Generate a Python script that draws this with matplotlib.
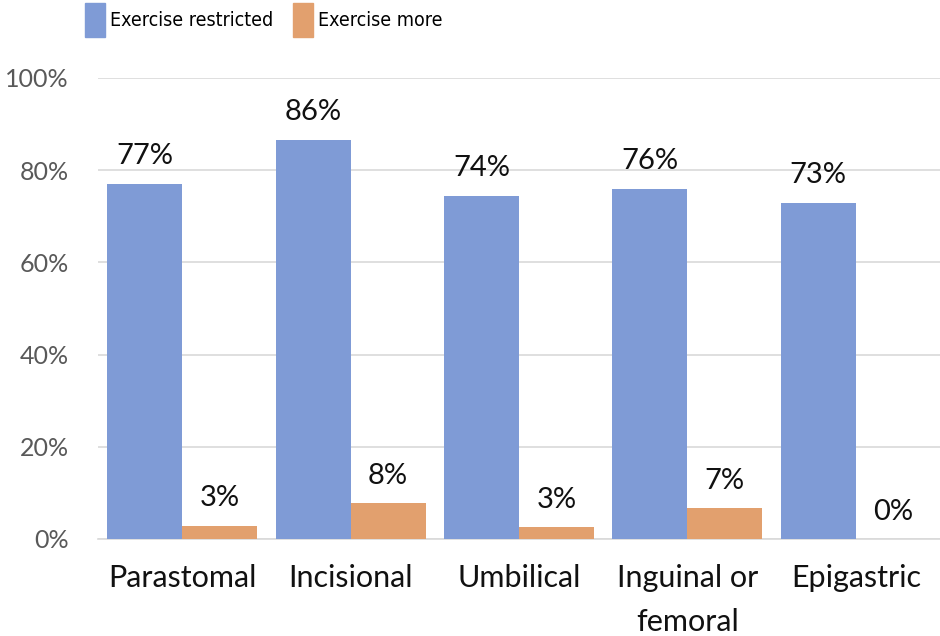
import matplotlib
matplotlib.use("Agg")
import matplotlib.pyplot as plt
import numpy as np
from matplotlib.patches import Patch

categories = ["Parastomal", "Incisional", "Umbilical", "Inguinal or\nfemoral", "Epigastric"]
restricted = [77.0, 86.5, 74.4, 75.9, 72.9]
more = [2.9, 7.8, 2.5, 6.7, 0.0]
restricted_labels = ["77%", "86%", "74%", "76%", "73%"]
more_labels = ["3%", "8%", "3%", "7%", "0%"]
yticks = [0, 20, 40, 60, 80, 100]

plt.rcParams['font.family'] = ['Lato', 'DejaVu Sans']

blue = "#7f9bd6"
orange = "#e2a06e"

fig = plt.figure(figsize=(9.4, 6.36), dpi=100)
ax = fig.add_axes([98/940, 1 - 539/636, 842/940, 461/636])

x = np.arange(len(categories))
w = 0.445
ax.bar(x - w/2, restricted, w, color=blue, zorder=3)
ax.bar(x + w/2, more, w, color=orange, zorder=3)

for xi, v, lab in zip(x, restricted, restricted_labels):
    ax.text(xi - w/2, v + 4.4, lab, ha="center", va="baseline", fontsize=21, color="#111111")
for xi, v, lab in zip(x, more, more_labels):
    ax.text(xi + w/2, v + 4.2, lab, ha="center", va="baseline", fontsize=21, color="#111111")

ax.set_xlim(-0.5, len(categories) - 0.5)
ax.set_ylim(0, 100)
ax.set_yticks(yticks)
ax.set_yticklabels([f"{t}%" for t in yticks], fontsize=18, color="#595959")
ax.set_xticks(x)
ax.set_xticklabels(categories, fontsize=22, color="#111111", linespacing=1.7)
ax.tick_params(axis="both", length=0)
ax.tick_params(axis="y", pad=21)
ax.tick_params(axis="x", pad=18)
ax.yaxis.grid(True, color="#d9d9d9", linewidth=1.2, zorder=0)
for s in ["top", "right", "left"]:
    ax.spines[s].set_visible(False)
ax.spines["bottom"].set_color("#d9d9d9")
ax.spines["bottom"].set_linewidth(1.2)

handles = [Patch(color=blue, label="Exercise restricted"), Patch(color=orange, label="Exercise more")]
fig.legend(handles=handles, loc="center", bbox_to_anchor=(264/940, 1 - 20/636), ncol=2,
           frameon=False, prop={"family": "DejaVu Sans", "stretch": "condensed", "size": 14},
           handlelength=1.0, handleheight=2.3,
           handletextpad=0.3, columnspacing=1.0)

fig.savefig("out.png", dpi=100)
